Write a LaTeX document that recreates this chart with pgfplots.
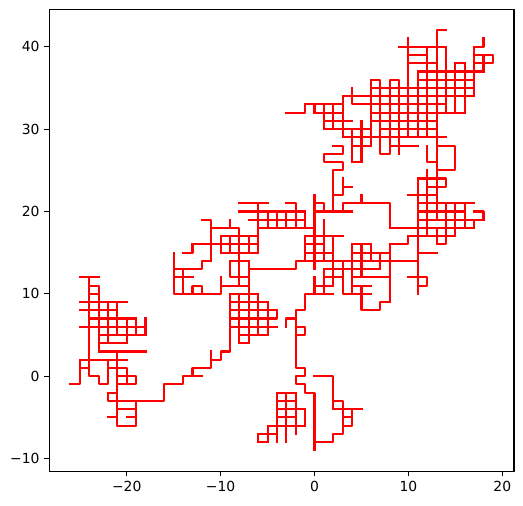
\documentclass[border=0pt]{standalone}
\usepackage{fontspec}
\setmainfont{DejaVu Sans}
\usepackage{pgfplots}
\pgfplotsset{compat=1.18}
\pgfplotsset{w/.style={color={rgb,1:red,1;green,0;blue,0}, line width=1.5pt, line cap=rect, line join=round}}
\begin{document}
\begin{tikzpicture}
\useasboundingbox (0pt,0pt) rectangle (376.56pt,363.6pt);
\begin{axis}[
  at={(35.5pt,24.26pt)}, anchor=south west,
  width=334.6pt, height=332.64pt, scale only axis,
  xmin=-28.25, xmax=21.25, ymin=-11.55, ymax=44.55,
  xtick={-20,-10,0,10,20}, xticklabels={−20,−10,0,10,20},
  ytick={-10,0,10,20,30,40}, yticklabels={−10,0,10,20,30,40},
  axis line style={line width=0.8pt},
  tick style={line width=0.8pt, black},
  tick align=outside, major tick length=3.5pt,
  xtick pos=bottom, ytick pos=left,
  tick label style={font=\fontsize{10}{12}\selectfont},
]
% cluster A
\addplot[w] coordinates {(-25,12)(-23,12)};
\addplot[w] coordinates {(-24,12)(-24,0)(-23,0)(-23,-1)(-22,-1)(-22,2)};
\addplot[w] coordinates {(-24,11)(-23,11)(-23,3)};
\addplot[w] coordinates {(-24,10)(-23,10)};
\addplot[w] coordinates {(-25,9)(-20,9)};
\addplot[w] coordinates {(-25,8)(-21,8)};
\addplot[w] coordinates {(-24,7)(-19,7)};
\addplot[w] coordinates {(-25,6)(-18,6)};
\addplot[w] coordinates {(-23,5)(-18,5)};
\addplot[w] coordinates {(-23,4)(-20,4)};
\addplot[w] coordinates {(-23,3)(-18,3)};
\addplot[w] coordinates {(-25,2)(-20,2)};
\addplot[w] coordinates {(-25,2)(-25,-1)(-26,-1)};
\addplot[w] coordinates {(-25,1)(-24,1)};
\addplot[w] coordinates {(-22,1)(-20,1)(-20,-1)(-21,-1)};
\addplot[w] coordinates {(-22,9)(-22,4)};
\addplot[w] coordinates {(-21,9)(-21,5)};
\addplot[w] coordinates {(-21,3)(-21,-6)(-19,-6)(-19,-3)};
\addplot[w] coordinates {(-20,7)(-20,4)};
\addplot[w] coordinates {(-19,7)(-19,5)};
\addplot[w] coordinates {(-18,7)(-18,5)};
\addplot[w] coordinates {(-21,0)(-19,0)(-19,-1)(-20,-1)};
\addplot[w] coordinates {(-22,-2)(-21,-2)};
\addplot[w] coordinates {(-22,-2)(-22,-3)(-16,-3)(-16,-1)(-14,-1)(-14,0)(-12,0)};
\addplot[w] coordinates {(-21,-4)(-19,-4)};
\addplot[w] coordinates {(-22,-5)(-21,-5)};
\addplot[w] coordinates {(-20,-5)(-19,-5)};
\addplot[w] coordinates {(-13,0)(-13,1)(-11,1)(-11,3)};
\addplot[w] coordinates {(-11,2)(-10,2)(-10,3)(-9,3)(-9,10)};
% cluster B lower
\addplot[w] coordinates {(-9,9)(-5,9)};
\addplot[w] coordinates {(-9,8)(-4,8)};
\addplot[w] coordinates {(-9,7)(-4,7)(-4,8)};
\addplot[w] coordinates {(-9,6)(-4,6)};
\addplot[w] coordinates {(-8,5)(-5,5)};
\addplot[w] coordinates {(-8,4)(-7,4)};
\addplot[w] coordinates {(-8,10)(-8,4)};
\addplot[w] coordinates {(-7,14)(-7,4)};
\addplot[w] coordinates {(-6,10)(-6,5)};
\addplot[w] coordinates {(-5,9)(-5,5)};
\addplot[w] coordinates {(-9,10)(-6,10)};
% cluster B upper
\addplot[w] coordinates {(-8,21)(-5,21)};
\addplot[w] coordinates {(-6,21)(-6,15)};
\addplot[w] coordinates {(-8,20)(-1,20)};
\addplot[w] coordinates {(-7,19)(-1,19)};
\addplot[w] coordinates {(-6,18)(0,18)};
\addplot[w] coordinates {(-5,20)(-5,18)};
\addplot[w] coordinates {(-4,20)(-4,18)};
\addplot[w] coordinates {(-3,20)(-3,18)};
\addplot[w] coordinates {(-12,19)(-11,19)(-11,14)};
\addplot[w] coordinates {(-11,18)(-8,18)(-8,11)};
\addplot[w] coordinates {(-9,19)(-9,18)};
\addplot[w] coordinates {(-10,17)(-6,17)};
\addplot[w] coordinates {(-10,17)(-10,15)};
\addplot[w] coordinates {(-9,17)(-9,15)};
\addplot[w] coordinates {(-7,17)(-7,15)};
\addplot[w] coordinates {(-13,16)(-6,16)};
\addplot[w] coordinates {(-14,15)(-13,15)(-13,16)};
\addplot[w] coordinates {(-10,15)(-6,15)};
\addplot[w] coordinates {(-11,14)(-12,14)(-12,13)(-15,13)};
\addplot[w] coordinates {(-15,15)(-15,10)(-10,10)(-10,12)};
\addplot[w] coordinates {(-15,12)(-13,12)};
\addplot[w] coordinates {(-14,13)(-14,10)};
\addplot[w] coordinates {(-13,10)(-13,11)(-12,11)(-12,10)};
\addplot[w] coordinates {(-10,11)(-7,11)};
\addplot[w] coordinates {(-9,14)(-7,14)};
\addplot[w] coordinates {(-9,14)(-9,12)(-7,12)};
\addplot[w] coordinates {(-7,13)(-2,13)(-2,14)(11,14)};
% lower middle
\addplot[w] coordinates {(-2,5)(-2,1)(-1,1)(-1,0)(-2,0)(-2,-1)(-1,-1)(-1,-2)(0,-2)(0,-9)};
\addplot[w] coordinates {(0,-8)(2,-8)(2,-7)(3,-7)(3,-3)(2,-3)};
\addplot[w] coordinates {(3,-6)(4,-6)(4,-4)};
\addplot[w] coordinates {(3,-5)(4,-5)};
\addplot[w] coordinates {(2,-4)(5,-4)};
\addplot[w] coordinates {(2,-4)(2,0)(0,0)};
\addplot[w] coordinates {(-4,-2)(-2,-2)};
\addplot[w] coordinates {(-4,-3)(-2,-3)};
\addplot[w] coordinates {(-4,-4)(-1,-4)};
\addplot[w] coordinates {(-4,-5)(-2,-5)};
\addplot[w] coordinates {(-5,-6)(-1,-6)};
\addplot[w] coordinates {(-6,-7)(-4,-7)};
\addplot[w] coordinates {(-6,-8)(-5,-8)};
\addplot[w] coordinates {(-4,-2)(-4,-8)};
\addplot[w] coordinates {(-3,-2)(-3,-8)};
\addplot[w] coordinates {(-2,-2)(-2,-7)};
\addplot[w] coordinates {(-1,-4)(-1,-6)};
\addplot[w] coordinates {(-6,-7)(-6,-8)};
\addplot[w] coordinates {(-5,-6)(-5,-8)};
\addplot[w] coordinates {(-2,6)(-2,5)(-1,5)(-1,6)(-2,6)(-2,8)(-1,8)(-1,10)(2,10)};
\addplot[w] coordinates {(-3,6)(-3,7)(-2,7)};
% cluster C
\addplot[w] coordinates {(0,22)(0,13)};
\addplot[w] coordinates {(-3,21)(-2,21)(-2,18)};
\addplot[w] coordinates {(-1,20)(-1,18)};
\addplot[w] coordinates {(0,21)(1,21)(1,20)};
\addplot[w] coordinates {(0,20)(4,20)};
\addplot[w] coordinates {(2,20)(2,25)(3,25)(3,26)(1,26)(1,27)(3,27)(3,28)(2,28)};
\addplot[w] coordinates {(2,22)(3,22)(3,24)};
\addplot[w] coordinates {(3,23)(4,23)};
\addplot[w] coordinates {(3,20)(3,21)(8,21)(8,18)(11,18)};
\addplot[w] coordinates {(5,21)(5,22)};
\addplot[w] coordinates {(-1,17)(3,17)};
\addplot[w] coordinates {(1,19)(1,14)};
\addplot[w] coordinates {(-1,17)(-1,14)};
\addplot[w] coordinates {(-1,16)(1,16)};
\addplot[w] coordinates {(-1,15)(2,15)};
\addplot[w] coordinates {(2,17)(2,11)};
\addplot[w] coordinates {(3,14)(3,10)(6,10)};
\addplot[w] coordinates {(1,13)(4,13)};
\addplot[w] coordinates {(1,12)(3,12)};
\addplot[w] coordinates {(0,11)(2,11)};
\addplot[w] coordinates {(1,13)(1,10)};
\addplot[w] coordinates {(0,12)(0,10)};
\addplot[w] coordinates {(4,15)(8,15)};
\addplot[w] coordinates {(4,16)(4,10)};
\addplot[w] coordinates {(5,16)(5,12)};
\addplot[w] coordinates {(6,16)(6,14)};
\addplot[w] coordinates {(7,15)(7,13)};
\addplot[w] coordinates {(8,16)(8,9)};
\addplot[w] coordinates {(4,13)(7,13)};
\addplot[w] coordinates {(4,12)(8,12)};
\addplot[w] coordinates {(4,11)(6,11)};
\addplot[w] coordinates {(5,11)(5,8)(7,8)(7,9)(8,9)};
\addplot[w] coordinates {(4,16)(6,16)};
% upper middle
\addplot[w] coordinates {(4,28)(6,28)};
\addplot[w] coordinates {(4,26)(5,26)};
\addplot[w] coordinates {(4,30)(4,26)};
\addplot[w] coordinates {(5,31)(5,26)};
\addplot[w] coordinates {(3,29)(13,29)};
\addplot[w] coordinates {(1,30)(6,30)};
\addplot[w] coordinates {(1,31)(4,31)};
\addplot[w] coordinates {(0,32)(3,32)};
\addplot[w] coordinates {(-1,33)(3,33)};
\addplot[w] coordinates {(-3,32)(-1,32)(-1,33)};
\addplot[w] coordinates {(0,33)(0,32)};
\addplot[w] coordinates {(1,33)(1,30)};
\addplot[w] coordinates {(2,33)(2,30)};
\addplot[w] coordinates {(3,34)(3,29)};
\addplot[w] coordinates {(3,34)(17,34)};
\addplot[w] coordinates {(4,35)(4,33)(14,33)};
% upper right
\addplot[w] coordinates {(6,36)(6,28)};
\addplot[w] coordinates {(6,36)(7,36)(7,27)(8,27)(8,36)(9,36)(9,27)};
\addplot[w] coordinates {(6,35)(17,35)};
\addplot[w] coordinates {(6,32)(16,32)};
\addplot[w] coordinates {(6,31)(13,31)};
\addplot[w] coordinates {(7,30)(13,30)};
\addplot[w] coordinates {(8,28)(11,28)};
\addplot[w] coordinates {(10,41)(10,29)};
\addplot[w] coordinates {(11,37)(11,29)};
\addplot[w] coordinates {(12,40)(12,29)};
\addplot[w] coordinates {(14,42)(13,42)(13,19)};
\addplot[w] coordinates {(14,40)(14,32)};
\addplot[w] coordinates {(15,38)(15,32)};
\addplot[w] coordinates {(16,38)(16,32)};
\addplot[w] coordinates {(17,40)(17,34)};
\addplot[w] coordinates {(9,40)(14,40)};
\addplot[w] coordinates {(10,39)(12,39)};
\addplot[w] coordinates {(10,38)(13,38)};
\addplot[w] coordinates {(11,37)(18,37)};
\addplot[w] coordinates {(11,36)(17,36)};
\addplot[w] coordinates {(15,38)(16,38)};
\addplot[w] coordinates {(17,40)(18,40)(18,41)};
\addplot[w] coordinates {(17,39)(19,39)(19,38)(17,38)};
\addplot[w] coordinates {(18,39)(18,37)};
\addplot[w] coordinates {(13,29)(14,29)};
\addplot[w] coordinates {(13,28)(15,28)(15,25)(13,25)};
\addplot[w] coordinates {(12,28)(12,26)(13,26)};
% cluster D
\addplot[w] coordinates {(11,24)(14,24)(14,23)(12,23)};
\addplot[w] coordinates {(12,25)(12,17)};
\addplot[w] coordinates {(10,22)(13,22)};
\addplot[w] coordinates {(11,24)(11,10)};
\addplot[w] coordinates {(11,21)(17,21)};
\addplot[w] coordinates {(11,20)(16,20)};
\addplot[w] coordinates {(17,20)(18,20)(18,19)};
\addplot[w] coordinates {(11,19)(18,19)};
\addplot[w] coordinates {(14,21)(14,16)(13,16)};
\addplot[w] coordinates {(15,21)(15,17)};
\addplot[w] coordinates {(16,21)(16,18)};
\addplot[w] coordinates {(17,19)(17,18)};
\addplot[w] coordinates {(8,18)(17,18)};
\addplot[w] coordinates {(10,17)(15,17)};
\addplot[w] coordinates {(10,17)(10,16)(8,16)};
\addplot[w] coordinates {(13,18)(13,16)};
\addplot[w] coordinates {(11,15)(13,15)};
\addplot[w] coordinates {(10,12)(12,12)(12,11)(11,11)};
\end{axis}
\end{tikzpicture}
\end{document}
